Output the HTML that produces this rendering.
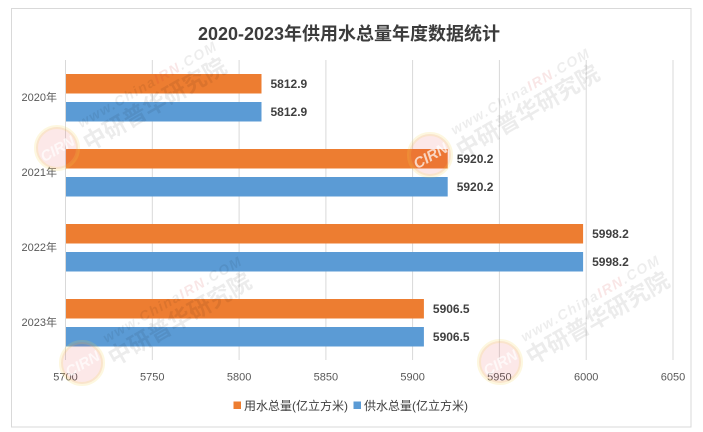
<!DOCTYPE html>
<html>
<head>
<meta charset="utf-8">
<style>
html,body{margin:0;padding:0;background:#fff;}
svg{display:block;}
text{font-family:"Liberation Sans","Noto Sans CJK SC",sans-serif;}
</style>
</head>
<body>
<svg width="703" height="432" viewBox="0 0 703 432" xmlns="http://www.w3.org/2000/svg">
<rect x="0" y="0" width="703" height="432" fill="#fff"/>
<rect x="11.5" y="8.5" width="679.5" height="418.5" fill="#fff" stroke="#d9d9d9" stroke-width="1"/>

<!-- title -->
<text x="349" y="40" text-anchor="middle" font-size="18" font-weight="bold" fill="#3c3c3c">2020-2023年供用水总量年度数据统计</text>

<!-- gridlines -->
<g stroke="#d9d9d9" stroke-width="1">
<line x1="65.5" y1="60" x2="65.5" y2="360"/>
<line x1="152.3" y1="60" x2="152.3" y2="360"/>
<line x1="239.1" y1="60" x2="239.1" y2="360"/>
<line x1="325.9" y1="60" x2="325.9" y2="360"/>
<line x1="412.6" y1="60" x2="412.6" y2="360"/>
<line x1="499.4" y1="60" x2="499.4" y2="360"/>
<line x1="586.2" y1="60" x2="586.2" y2="360"/>
<line x1="673" y1="60" x2="673" y2="360"/>
</g>

<!-- tick labels -->
<g font-size="11" fill="#595959" text-anchor="middle">
<text x="65.5" y="380.5">5700</text>
<text x="152.3" y="380.5">5750</text>
<text x="239.1" y="380.5">5800</text>
<text x="325.9" y="380.5">5850</text>
<text x="412.6" y="380.5">5900</text>
<text x="499.4" y="380.5">5950</text>
<text x="586.2" y="380.5">6000</text>
<text x="673" y="380.5">6050</text>
</g>

<!-- category labels -->
<g font-size="11" fill="#595959" text-anchor="end">
<text x="57" y="101">2020年</text>
<text x="57" y="176">2021年</text>
<text x="57" y="251">2022年</text>
<text x="57" y="326">2023年</text>
</g>

<!-- bars -->
<g>
<rect x="66" y="74" width="195.5" height="19.5" fill="#ED7D31"/>
<rect x="66" y="102" width="195.5" height="19.5" fill="#5B9BD5"/>
<rect x="66" y="149" width="381.7" height="19.5" fill="#ED7D31"/>
<rect x="66" y="177" width="381.7" height="19.5" fill="#5B9BD5"/>
<rect x="66" y="224" width="517.1" height="19.5" fill="#ED7D31"/>
<rect x="66" y="252" width="517.1" height="19.5" fill="#5B9BD5"/>
<rect x="66" y="299" width="357.9" height="19.5" fill="#ED7D31"/>
<rect x="66" y="327" width="357.9" height="19.5" fill="#5B9BD5"/>
</g>

<!-- value labels -->
<g font-size="12" font-weight="bold" fill="#404040">
<text x="270.5" y="88">5812.9</text>
<text x="270.5" y="116">5812.9</text>
<text x="456.7" y="163">5920.2</text>
<text x="456.7" y="191">5920.2</text>
<text x="592.1" y="238">5998.2</text>
<text x="592.1" y="266">5998.2</text>
<text x="432.9" y="313">5906.5</text>
<text x="432.9" y="341">5906.5</text>
</g>

<!-- legend -->
<rect x="233.5" y="401.5" width="7.5" height="7.5" fill="#ED7D31"/>
<text x="244" y="410" font-size="12" fill="#404040">用水总量(亿立方米)</text>
<rect x="353.5" y="401.5" width="7.5" height="7.5" fill="#5B9BD5"/>
<text x="364" y="410" font-size="12" fill="#404040">供水总量(亿立方米)</text>

<!-- watermarks -->
<defs>
<g id="wm">
<circle cx="0" cy="0" r="21" fill="rgb(230,80,80)" fill-opacity="0.13" stroke="rgb(245,210,80)" stroke-opacity="0.18" stroke-width="4"/>
<text x="0" y="6" text-anchor="middle" font-size="15" font-weight="bold" font-style="italic" fill="#fff" fill-opacity="0.7" transform="rotate(-30)">CIRN</text>
<g transform="rotate(-30)">
<text x="31" y="-5" font-size="14" font-weight="bold" font-style="italic" fill="#000" fill-opacity="0.07" textLength="157">www.China<tspan fill="#d03030" fill-opacity="0.12">IRN</tspan>.COM</text>
<text x="26" y="19" font-size="23" font-weight="bold" fill="#000" fill-opacity="0.075">中研普华研究院</text>
</g>
</g>
</defs>
<use href="#wm" x="57" y="148"/>
<use href="#wm" x="430" y="155"/>
<use href="#wm" x="82" y="363"/>
<use href="#wm" x="500" y="362"/>
</svg>
</body>
</html>
